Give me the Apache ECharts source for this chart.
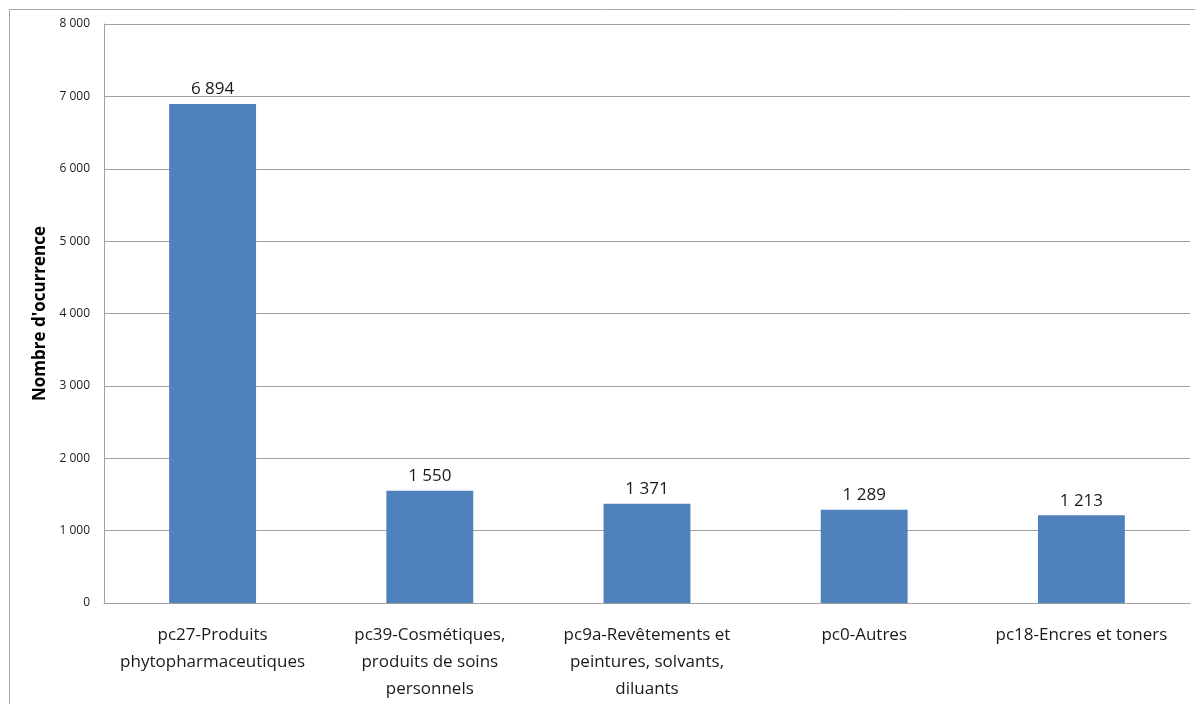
<!DOCTYPE html>
<html>
<head>
<meta charset="utf-8">
<script src="https://cdn.jsdelivr.net/npm/echarts@6/dist/echarts.min.js"></script>
<style>
  html, body { margin: 0; padding: 0; background: #fff; }
  #chart { width: 1195px; height: 704px; }
</style>
</head>
<body>
<div id="chart"></div>
<script>
const categories = [
  "pc27-Produits\nphytopharmaceutiques",
  "pc39-Cosmétiques,\nproduits de soins\npersonnels",
  "pc9a-Revêtements et\npeintures, solvants,\ndiluants",
  "pc0-Autres",
  "pc18-Encres et toners"
];
const occurrences = [6894, 1550, 1371, 1289, 1213];
const yTicks = [0, 1000, 2000, 3000, 4000, 5000, 6000, 7000, 8000];

const fmt = v => String(v).replace(/\B(?=(\d{3})+(?!\d))/g, " ");
const font = "'Open Sans', 'Noto Sans', sans-serif";

const chart = echarts.init(document.getElementById("chart"));

const option = {
  animation: false,
  graphic: [
    {
      type: "rect",
      shape: { x: 9.5, y: 9.5, width: 1200, height: 720 },
      style: { fill: "none", stroke: "#a6a6a6", lineWidth: 1 },
      silent: true
    }
  ],
  grid: { left: 104, right: 5, top: 24, bottom: 101 },
  xAxis: {
    type: "category",
    data: categories,
    axisTick: { show: false },
    axisLine: { lineStyle: { color: "#a0a0a0" } },
    axisLabel: {
      interval: 0,
      margin: 19,
      color: "#1a1a1a",
      fontFamily: font,
      fontSize: 17,
      lineHeight: 27
    }
  },
  yAxis: {
    type: "value",
    min: yTicks[0],
    max: yTicks[yTicks.length - 1],
    interval: 1000,
    name: "Nombre d'ocurrence",
    nameLocation: "middle",
    nameGap: 52,
    nameTextStyle: { fontFamily: font, fontSize: 17, fontWeight: "bold", color: "#000" },
    axisLine: { show: true, lineStyle: { color: "#a0a0a0" } },
    axisTick: { show: false },
    splitLine: { lineStyle: { color: "#a0a0a0" } },
    axisLabel: {
      margin: 14,
      color: "#1a1a1a",
      fontFamily: font,
      fontSize: 12,
      formatter: v => fmt(v)
    }
  },
  series: [
    {
      type: "bar",
      data: occurrences,
      barWidth: "40%",
      itemStyle: { color: "#4f81bd" },
      label: {
        show: true,
        position: "top",
        distance: 6,
        color: "#1a1a1a",
        fontFamily: font,
        fontSize: 17,
        formatter: p => fmt(p.value)
      }
    }
  ]
};

chart.setOption(option);
</script>
</body>
</html>
